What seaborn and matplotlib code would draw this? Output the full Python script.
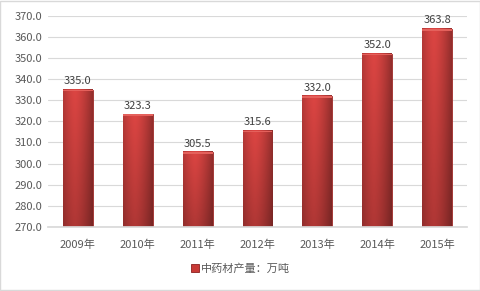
import numpy as np
import pandas as pd
import matplotlib
matplotlib.use("Agg")
import matplotlib.pyplot as plt
import seaborn as sns

years = ["2009年", "2010年", "2011年", "2012年", "2013年", "2014年", "2015年"]
values = [335.0, 323.3, 305.5, 315.6, 332.0, 352.0, 363.8]
series_name = "中药材产量：万吨"

sns.set_theme(style="white")
plt.rcParams['font.family'] = ['Noto Sans CJK SC', 'DejaVu Sans']

df = pd.DataFrame({"year": years, "value": values})

fig = plt.figure(figsize=(4.81, 2.91), dpi=100)
ax = fig.add_axes([48/481, 1 - 227/291, (467-48)/481, (227-15.5)/291])

sns.barplot(data=df, x="year", y="value", ax=ax, color="#d0403c", width=0.5,
            edgecolor="#9a2a28", linewidth=0.6, saturation=1)
if ax.get_legend() is not None:
    ax.get_legend().remove()

ax.set_ylim(270, 370)
ax.set_yticks(np.arange(270, 371, 10))
ax.set_yticklabels([f"{v:.1f}" for v in np.arange(270, 371, 10)])
ax.set_xlabel("")
ax.set_ylabel("")
ax.yaxis.grid(True, color="#d9d9d9", linewidth=0.8)
ax.set_axisbelow(True)
for s in ["top", "right", "left"]:
    ax.spines[s].set_visible(False)
ax.spines["bottom"].set_color("#d9d9d9")
ax.tick_params(axis="both", length=0, labelsize=8, colors="#595959", pad=4)
ax.tick_params(axis="x", pad=9)

# gradient shading on bars
grad = np.zeros((50, 50, 4))
xs = np.linspace(0, 1, 50)
ys = np.linspace(0, 1, 50)
X, Y = np.meshgrid(xs, ys)
shade = 1 - 0.35 * np.abs(X - 0.4) ** 1.5 * 2
vert = 0.80 + 0.2 * Y
base = np.array([0.86, 0.27, 0.26])
for c in range(3):
    grad[..., c] = base[c] * shade * vert
grad[..., 3] = 1
for p in list(ax.patches):
    x0, y0 = p.get_x(), p.get_y()
    w, h = p.get_width(), p.get_height()
    bottom = 270
    im = ax.imshow(grad, extent=[x0, x0 + w, bottom, y0 + h], origin="lower",
                   aspect="auto", zorder=p.get_zorder() + 0.1)
    im.set_clip_path(p)
    im.set_clip_box(ax.bbox)
    ax.fill_between([x0, x0 + w], y0 + h - 0.9, y0 + h, color="#e4615c",
                    zorder=p.get_zorder() + 0.2, linewidth=0)
ax.set_xlim(-0.5, len(years) - 0.5)
ax.set_ylim(270, 370)

for i, v in enumerate(values):
    ax.text(i, v + 1.5, f"{v:.1f}", ha="center", va="bottom", fontsize=8, color="#404040")

handles = [plt.Rectangle((0, 0), 1, 1, facecolor="#c83a36", edgecolor="#8b2020", linewidth=0.6)]
fig.legend(handles, [series_name], loc="center", bbox_to_anchor=(0.5, 1 - 269/291),
           frameon=False, fontsize=8, handlelength=0.7, handleheight=0.7,
           handletextpad=0.2, labelcolor="#595959")

fig.patches.append(plt.Rectangle((0.001, 0.002), 0.997, 0.995, transform=fig.transFigure,
                                 fill=False, edgecolor="#d9d9d9", linewidth=1))
fig.savefig("out.png", dpi=100, facecolor="white")
